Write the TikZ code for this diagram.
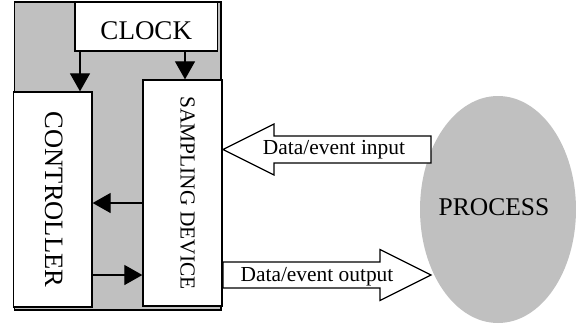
\documentclass[tikz,border=0pt]{standalone}
\usepackage{fontspec}
\setmainfont{Liberation Serif}
\usetikzlibrary{arrows.meta,shapes.geometric}
\definecolor{panel}{RGB}{192,192,192}
\begin{document}
\begin{tikzpicture}[x=1pt,y=-1pt,
  box/.style={draw, fill=white, line width=1.3pt, inner sep=0pt},
  sig/.style={line width=1.2pt, -{Triangle[length=18pt,width=20pt]}},
  fat/.style={draw, fill=white, line width=1.2pt, line join=miter},
  lbl/.style={inner sep=0pt, anchor=base, font=\fontsize{21.4}{25}\selectfont},
]
\useasboundingbox (0,0) rectangle (576,327);

% housing of the computer system
\draw[fill=panel, line width=1.6pt] (14.5,2) rectangle (221,310);

% clock, controller and sampling device
\node[box, minimum width=142.5pt, minimum height=48.5pt, text height=25pt,
      font=\fontsize{27}{30}\selectfont] (clock) at (146.25,26.75) {CLOCK};
\node[box, minimum width=78.7pt, minimum height=215pt] (ctrl) at (52.65,199.5) {};
\node[rotate=-90, inner sep=0pt, font=\fontsize{26.5}{30}\selectfont] (ctrltext)
      at ([xshift=1pt]ctrl.center) {CONTROLLER};
\node[box, minimum width=79pt, minimum height=226pt] (samp) at (182.5,193) {};
\node[rotate=-90, inner sep=0pt, font=\fontsize{21.4}{25}\selectfont] (samptext)
      at ([xshift=5pt]samp.center) {SAMPLING DEVICE};

% clock signals
\coordinate (c1) at (80,0);
\coordinate (c2) at (185,0);
\draw[sig] (clock.south -| c1) -- (ctrl.north -| c1);
\draw[sig] (clock.south -| c2) -- (samp.north -| c2);

% controller <-> sampling device
\coordinate (r1) at (0,203);
\coordinate (r2) at (0,275);
\draw[sig] (samp.west |- r1) -- (ctrl.east |- r1);
\draw[sig] (ctrl.east |- r2) -- (samp.west |- r2);

% the controlled process
\node[ellipse, fill=panel, minimum width=156pt, minimum height=227pt, inner sep=0pt]
      (proc) at (498,209.5) {};
\node[anchor=base, inner sep=0pt, font=\fontsize{25.5}{30}\selectfont] (proctext)
      at (494,215) {PROCESS};

% data flow between process and sampling device
\draw[fat] (431,136) -- (274,136) -- (274,124) -- (223,149.5) -- (274,175)
           -- (274,163) -- (431,163) -- cycle;
\node[lbl] (inlbl) at (334,154) {Data/event input};
\draw[fat] (223,262) -- (380,262) -- (380,249.5) -- (431,275) -- (380,300.5)
           -- (380,288) -- (223,288) -- cycle;
\node[lbl] (outlbl) at (317,281) {Data/event output};
\end{tikzpicture}
\end{document}
